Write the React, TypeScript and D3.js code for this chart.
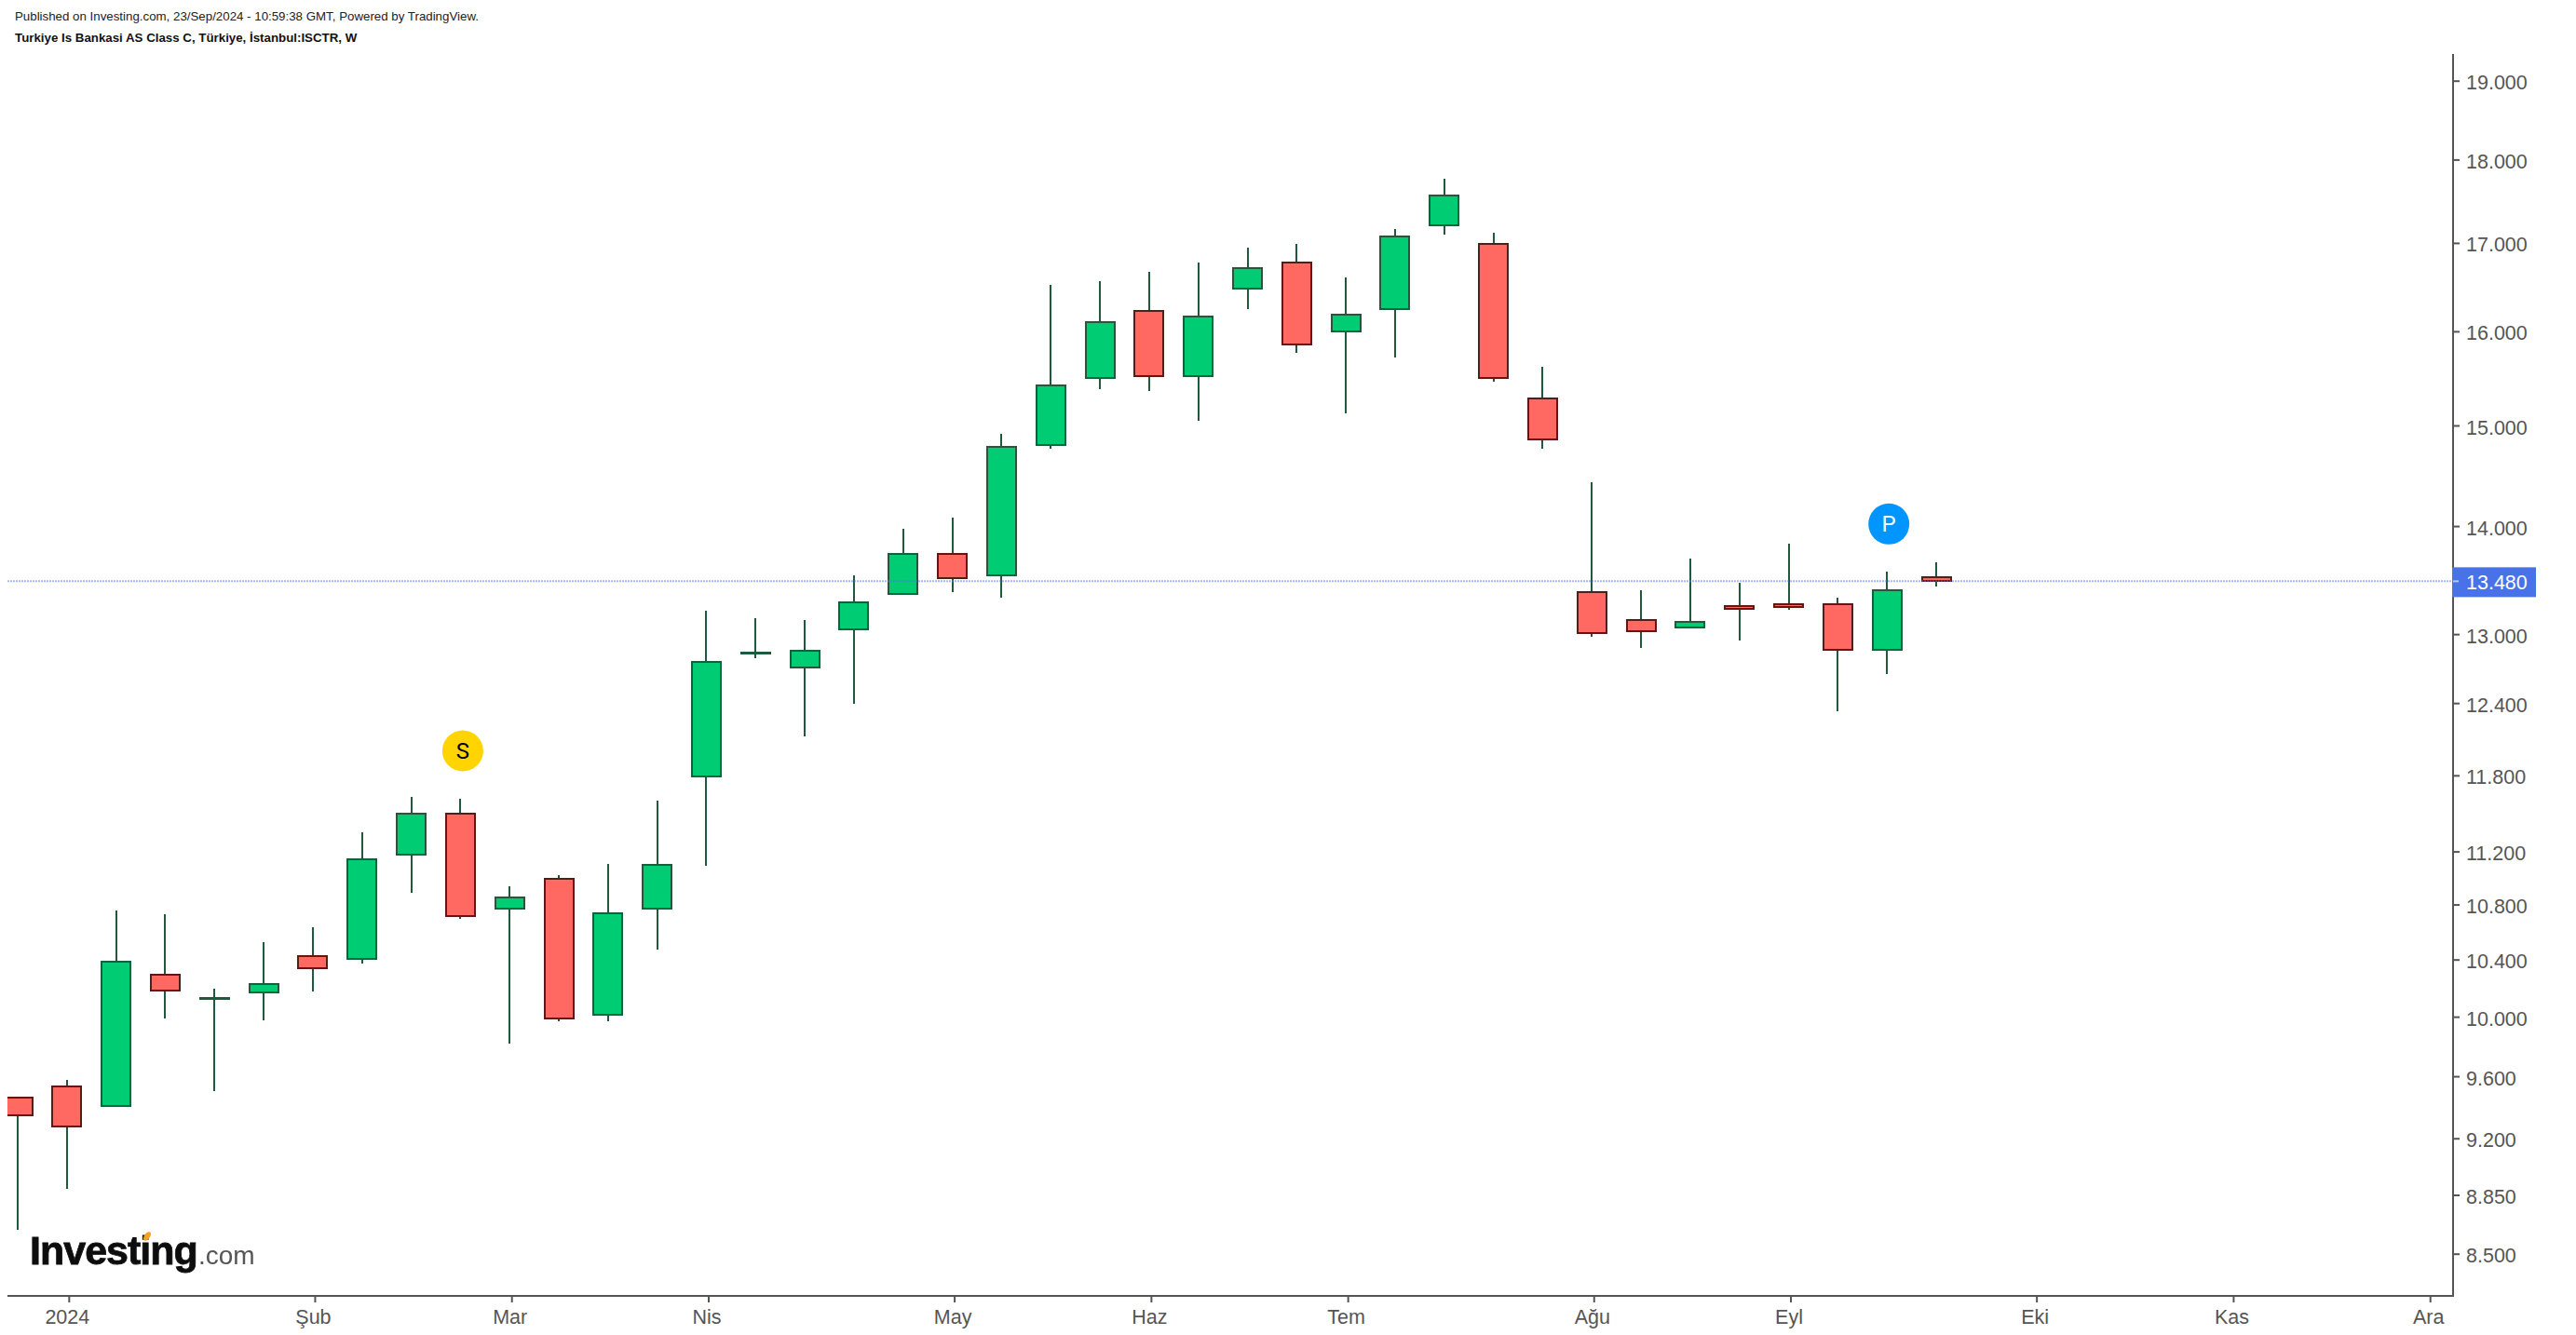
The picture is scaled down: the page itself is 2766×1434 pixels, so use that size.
import React, { useEffect, useRef } from "react";
import * as d3 from "d3";

const opens = [9460, 9531, 9406, 10292, 10124, 10170, 10423, 10403, 11179, 11494, 10771, 10995, 10011, 10771, 11789, 12826, 12709, 13040, 13360, 13734, 13532, 14798, 15493, 16230, 15513, 16472, 16777, 15996, 16244, 17205, 16991, 15285, 13384, 13130, 13058, 13249, 13266, 13266, 12860, 13520];
const highs = [9465, 9577, 10759, 10730, 10196, 10524, 10635, 11351, 11628, 11614, 10936, 11017, 11107, 11598, 13212, 13145, 13128, 13531, 13975, 14082, 14914, 16517, 16560, 16667, 16774, 16946, 16988, 16603, 17164, 17766, 17120, 15617, 14427, 13398, 13693, 13466, 13833, 13331, 13570, 13658];
const lows = [8640, 8886, 9400, 9991, 9504, 9978, 10172, 10369, 10885, 10693, 9815, 9966, 9966, 10474, 11091, 12785, 12116, 12397, 13352, 13384, 13333, 14766, 15382, 15363, 15051, 16250, 15761, 15129, 15720, 17101, 15460, 14766, 12979, 12881, 13049, 12946, 13215, 12334, 12653, 13435];
const closes = [9347, 9276, 10383, 10181, 10128, 10227, 10338, 11138, 11494, 10714, 10855, 9986, 10733, 11095, 12754, 12838, 12851, 13287, 13733, 13511, 14785, 15421, 16106, 15513, 16168, 16713, 15855, 16188, 17079, 17566, 15493, 14855, 13007, 13024, 13113, 13227, 13244, 12860, 13401, 13480];

const priceTicks = [19000, 18000, 17000, 16000, 15000, 14000, 13000, 12400, 11800, 11200, 10800, 10400, 10000, 9600, 9200, 8850, 8500];
const timeTickIndex = [1, 6, 10, 14, 19, 23, 27, 32, 36, 41, 45, 49];
const timeTickLabels = ["2024", "Şub", "Mar", "Nis", "May", "Haz", "Tem", "Ağu", "Eyl", "Eki", "Kas", "Ara"];
const lastPrice = 13480;
const markerS = { index: 9, price: 12000, label: "S" };
const markerP = { index: 38, price: 14020, label: "P" };

const W = 2766;
const H = 1434;
const FONT = "'Liberation Sans', Arial, sans-serif";
const plotLeft = 8;
const plotRight = 2634;
const plotTop = 58;
const plotBottom = 1392;

const x = d3.scaleLinear().domain([0, 39]).range([19, 2079]);
const y = d3.scaleLog().domain([8500, 19000]).range([1346.7, 86.7]);
const bodyW = 31;
const fmt = d3.formatLocale({ decimal: ",", thousands: ".", grouping: [3], currency: ["", ""] }).format(",d");

const UP_FILL = "#00cc73";
const UP_STROKE = "#1e5b3d";
const DOWN_FILL = "#ff6961";
const DOWN_STROKE = "#5c1a16";
const WICK = "#1e5b3d";
const AXIS = "#555555";

export default function App() {
  const yAxisRef = useRef<SVGGElement>(null);
  const xAxisRef = useRef<SVGGElement>(null);

  useEffect(() => {
    const ya = d3.axisRight(y).tickValues(priceTicks).tickSize(7).tickPadding(7).tickFormat((d) => fmt(d as number));
    const gy = d3.select(yAxisRef.current!).call(ya as any);
    gy.select(".domain").remove();
    gy.selectAll("line").attr("stroke", AXIS).attr("stroke-width", 2);
    gy.selectAll("text").attr("fill", AXIS).attr("font-size", 21.5).attr("font-family", FONT).attr("dy", "0.42em");

    const xa = d3.axisBottom(x).tickValues(timeTickIndex).tickSize(7).tickPadding(8)
      .tickFormat((_, i) => timeTickLabels[i]);
    const gx = d3.select(xAxisRef.current!).call(xa as any);
    gx.select(".domain").remove();
    gx.selectAll("line").attr("stroke", AXIS).attr("stroke-width", 2);
    gx.selectAll("text").attr("fill", AXIS).attr("font-size", 21.5).attr("font-family", FONT).attr("dx", -2);
  }, []);

  return (
    <svg
      width={W}
      height={H}
      viewBox={`0 0 ${W} ${H}`}
      style={{ position: "absolute", left: 0, top: 0, background: "#fff", display: "block" }}
    >
      <defs>
        <clipPath id="plot">
          <rect x={plotLeft} y={plotTop - 20} width={plotRight - plotLeft} height={plotBottom - plotTop + 20} />
        </clipPath>
        <filter id="soft" x="-5%" y="-20%" width="110%" height="140%">
          <feGaussianBlur stdDeviation="0.6" />
        </filter>
      </defs>
      <rect width={W} height={H} fill="#fff" />

      <text x={16} y={22} fontFamily={FONT} fontSize={13.3} fill="#222">
        Published on Investing.com, 23/Sep/2024 - 10:59:38 GMT, Powered by TradingView.
      </text>
      <text x={16} y={45} fontFamily={FONT} fontSize={13.3} fontWeight="bold" fill="#111">
        Turkiye Is Bankasi AS Class C, Türkiye, İstanbul:ISCTR, W
      </text>

      <g clipPath="url(#plot)">
        {opens.map((o, i) => {
          const c = closes[i];
          const up = c >= o;
          const top = y(Math.max(o, c));
          const bot = y(Math.min(o, c));
          return (
            <g key={i} shapeRendering="crispEdges">
              <line x1={x(i)} x2={x(i)} y1={y(highs[i])} y2={y(lows[i])} stroke={WICK} strokeWidth={2} />
              <rect
                x={x(i) - bodyW / 2}
                y={top}
                width={bodyW}
                height={Math.max(bot - top, 0.2)}
                fill={up ? UP_FILL : DOWN_FILL}
                stroke={up ? UP_STROKE : DOWN_STROKE}
                strokeWidth={2}
              />
            </g>
          );
        })}
        <line
          x1={plotLeft}
          x2={plotRight}
          y1={y(lastPrice)}
          y2={y(lastPrice)}
          stroke="#4f76ea"
          strokeOpacity={0.5}
          strokeWidth={2}
          strokeDasharray="2 1"
        />
      </g>

      {/* axes */}
      <line x1={plotLeft} x2={plotRight + 1} y1={plotBottom} y2={plotBottom} stroke={AXIS} strokeWidth={2} />
      <line x1={plotRight} x2={plotRight} y1={plotTop} y2={plotBottom + 1} stroke={AXIS} strokeWidth={2} />
      <g ref={yAxisRef} transform={`translate(${plotRight},0)`} />
      <g ref={xAxisRef} transform={`translate(2,${plotBottom})`} />

      {/* last price label */}
      <rect x={plotRight - 1} y={y(lastPrice) - 15} width={90} height={32} fill="#4a72e8" />
      <line x1={plotRight} x2={plotRight + 6} y1={y(lastPrice)} y2={y(lastPrice)} stroke="#b8c8f6" strokeWidth={2} />
      <text x={plotRight + 14} y={y(lastPrice)} dy="0.4em" fontFamily={FONT} fontSize={21.5} fill="#fff">
        {fmt(lastPrice)}
      </text>

      {/* markers */}
      <circle cx={x(markerS.index) + 2.5} cy={y(markerS.price)} r={22} fill="#ffd400" />
      <text x={x(markerS.index) + 2.5} y={y(markerS.price)} dy="0.36em" textAnchor="middle" fontFamily="Roboto, sans-serif" fontSize={24} fill="#000">
        {markerS.label}
      </text>
      <circle cx={x(markerP.index) + 2} cy={y(markerP.price)} r={22} fill="#0095ff" />
      <text x={x(markerP.index) + 2} y={y(markerP.price)} dy="0.36em" textAnchor="middle" fontFamily="Roboto, sans-serif" fontSize={24} fill="#fff">
        {markerP.label}
      </text>

      {/* logo */}
      <g filter="url(#soft)">
        <text x={32} y={1358} fontFamily={FONT} fontWeight="bold" fontSize={43} letterSpacing={-1.0} fill="#0a0a0a" stroke="#0a0a0a" strokeWidth={0.8}>
          Investing
        </text>
        <ellipse cx={158} cy={1328} rx={3} ry={5.5} transform="rotate(35 158 1328)" fill="#f7a21b" />
        <text x={213} y={1358} fontFamily={FONT} fontSize={28} fill="#555">
          .com
        </text>
      </g>
    </svg>
  );
}
